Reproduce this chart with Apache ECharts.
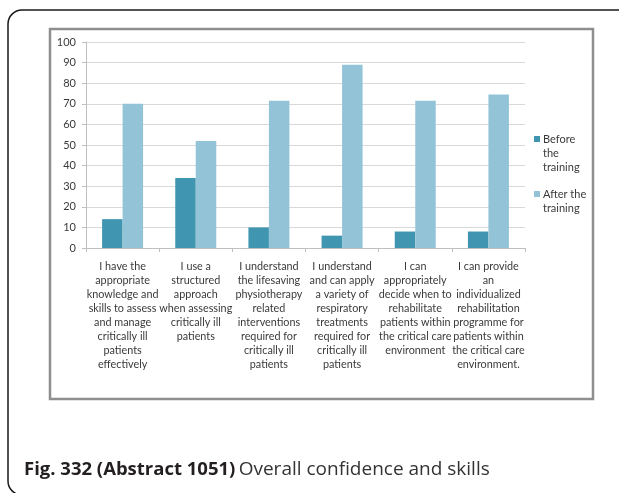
<!DOCTYPE html>
<html>
<head>
<meta charset="utf-8">
<script src="https://cdn.jsdelivr.net/npm/echarts@6/dist/echarts.min.js"></script>
<style>
html,body{margin:0;padding:0;background:#fff;}
#c{width:619px;height:493px;}
</style>
</head>
<body>
<div id="c"></div>
<script>
var categories = [
  "I have the\nappropriate\nknowledge and\nskills to assess\nand manage\ncritically ill\npatients\neffectively",
  "I use a\nstructured\napproach\nwhen assessing\ncritically ill\npatients",
  "I understand\nthe lifesaving\nphysiotherapy\nrelated\ninterventions\nrequired for\ncritically ill\npatients",
  "I understand\nand can apply\na variety of\nrespiratory\ntreatments\nrequired for\ncritically ill\npatients",
  "I can\nappropriately\ndecide when to\nrehabilitate\npatients within\nthe critical care\nenvironment",
  "I can provide\nan\nindividualized\nrehabilitation\nprogramme for\npatients within\nthe critical care\nenvironment."
];
var seriesNames = ["Before the training", "After the training"];
var legendLabels = ["Before\nthe\ntraining", "After the\ntraining"];
var beforeValues = [14, 34, 10, 6, 8, 8];
var afterValues = [70, 52, 71.5, 89, 71.5, 74.5];
var yTicks = [0, 100, 10];
var captionBold = "Fig. 332 (Abstract 1051)";
var captionText = "Overall confidence and skills";

var colors = ["#4096b0", "#93c3d7"];
var chart = echarts.init(document.getElementById('c'), null, {renderer: 'canvas'});
var option = {
  animation: false,
  backgroundColor: '#fff',
  grid: {left: 86, right: 94, top: 42, bottom: 245, containLabel: false},
  xAxis: {
    type: 'category',
    data: categories,
    axisLine: {show: true, lineStyle: {color: '#bfbfbf', width: 1}},
    axisTick: {show: true, length: 4, lineStyle: {color: '#bfbfbf'}},
    axisLabel: {
      interval: 0, margin: 12, fontFamily: 'Lato', fontSize: 10.8,
      lineHeight: 14, color: '#3a3a3a', align: 'center'
    }
  },
  yAxis: {
    type: 'value',
    min: yTicks[0], max: yTicks[1], interval: yTicks[2],
    axisLine: {show: true, lineStyle: {color: '#bfbfbf', width: 1}},
    axisTick: {show: true, length: 4, lineStyle: {color: '#bfbfbf'}},
    axisLabel: {margin: 10, fontFamily: 'Lato', fontSize: 11, color: '#3a3a3a'},
    splitLine: {show: true, lineStyle: {color: '#d9d9d9', width: 1}}
  },
  series: [
    {name: seriesNames[0], type: 'bar', data: beforeValues, barWidth: 20.5, barGap: '0%',
     itemStyle: {color: colors[0]}},
    {name: seriesNames[1], type: 'bar', data: afterValues, barWidth: 20.5, barGap: '0%',
     itemStyle: {color: colors[1]}}
  ],
  graphic: [
    {type: 'rect', z: -10, shape: {x: 8, y: 10, width: 640, height: 485, r: 14},
     style: {fill: 'none', stroke: '#1a1a1a', lineWidth: 1.5}},
    {type: 'rect', z: -9, shape: {x: 50, y: 29, width: 543, height: 370},
     style: {fill: 'none', stroke: '#8e8e8e', lineWidth: 2.5}},
    {type: 'rect', shape: {x: 534, y: 136, width: 6, height: 6}, style: {fill: colors[0]}},
    {type: 'text', x: 543, y: 132, style: {text: legendLabels[0], font: '11px Lato', fill: '#3a3a3a', lineHeight: 14, verticalAlign: 'top'}},
    {type: 'rect', shape: {x: 534, y: 191, width: 6, height: 6}, style: {fill: colors[1]}},
    {type: 'text', x: 543, y: 187, style: {text: legendLabels[1], font: '11px Lato', fill: '#3a3a3a', lineHeight: 14, verticalAlign: 'top'}},
    {type: 'text', x: 24, y: 470, style: {
      text: '{b|' + captionBold + '} {n|' + captionText + '}',
      verticalAlign: 'middle',
      rich: {
        b: {fontFamily: 'Open Sans', fontSize: 18.5, fontWeight: 'bold', fill: '#231f20'},
        n: {fontFamily: 'Open Sans', fontSize: 19, fontWeight: 'normal', fill: '#333333'}
      }
    }}
  ]
};
chart.setOption(option);
</script>
</body>
</html>
